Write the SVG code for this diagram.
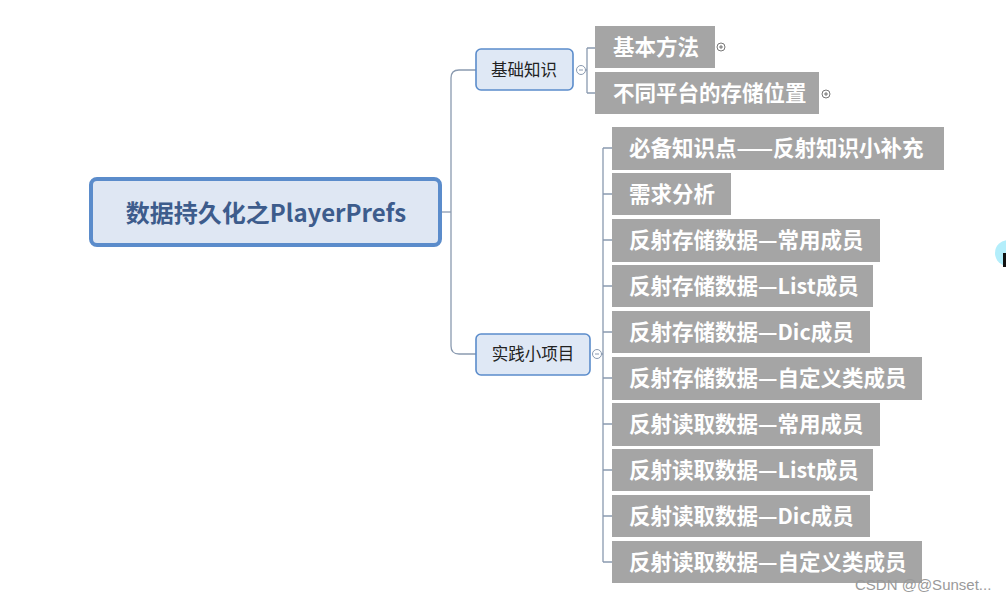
<svg xmlns="http://www.w3.org/2000/svg" width="1006" height="601" viewBox="0 0 1006 601">
<style>
.conn{fill:none;stroke:#8a9ab0;stroke-width:1.3}
.root rect{fill:#dfe7f3;stroke:#5b8ccb;stroke-width:4}
.root text{font-family:"Noto Sans CJK SC","Noto Sans",sans-serif;font-weight:bold;font-size:24px;fill:#3d5c8c;text-anchor:middle}
.mid rect{fill:#dfe8f5;stroke:#5b8ccb;stroke-width:1.6}
.mid text{font-family:"Noto Sans CJK SC",sans-serif;font-size:16.5px;fill:#222;text-anchor:middle}
.leaf rect{fill:#a5a5a5}
.leaf text{font-family:"Noto Sans CJK SC",sans-serif;font-weight:bold;font-size:21.5px;fill:#fff}
.tog{fill:#fff;stroke:#8a9ab0;stroke-width:1}
.tog2{fill:#fff;stroke:#555;stroke-width:0.8}
</style>
<rect width="1006" height="601" fill="#fff"/>
<g id="connectors">
<path class="conn" d="M441 212 H451"/>
<path class="conn" d="M476 70 H459 Q451 70 451 78 V346 Q451 354 459 354 H476"/>
<path class="conn" d="M586 70 H587 M587 48 V93 M587 48 H595 M587 93 H595"/>
<path class="conn" d="M601 354 H603 M603 148 V562 M603 148 H612 M603 194 H612 M603 240 H612 M603 286 H612 M603 332 H612 M603 378 H612 M603 424 H612 M603 470 H612 M603 516 H612 M603 562 H612"/>
</g>
<g id="root" class="root">
<rect x="91" y="179" width="349" height="66" rx="6"/>
<text x="266" y="222">数据持久化之PlayerPrefs</text>
</g>
<g id="n-basic" class="mid">
<rect x="476" y="49" width="97" height="41" rx="5"/>
<text x="524" y="76">基础知识</text>
<circle class="tog" cx="581" cy="70" r="4.5"/>
<path d="M579 70 H583" stroke="#8a9ab0" stroke-width="1"/>
</g>
<g id="n-practice" class="mid">
<rect x="476" y="334" width="114" height="41" rx="5"/>
<text x="533" y="360">实践小项目</text>
<circle class="tog" cx="597" cy="354" r="4.5"/>
<path d="M595 354 H599" stroke="#8a9ab0" stroke-width="1"/>
</g>
<g id="l1" class="leaf"><rect x="595" y="26" width="120" height="42"/><text x="613" y="55">基本方法</text>
<circle class="tog2" cx="721" cy="47" r="4"/><path d="M719 47 H723 M721 45 V49" stroke="#555" stroke-width="0.8"/></g>
<g id="l2" class="leaf"><rect x="595" y="72" width="224" height="42"/><text x="613" y="101">不同平台的存储位置</text>
<circle class="tog2" cx="826" cy="94" r="4"/><path d="M824 94 H828 M826 92 V96" stroke="#555" stroke-width="0.8"/></g>
<g id="p1" class="leaf"><rect x="612" y="127" width="332" height="43"/><text x="629" y="156">必备知识点——反射知识小补充</text></g>
<g id="p2" class="leaf"><rect x="612" y="173" width="119" height="42"/><text x="629" y="202">需求分析</text></g>
<g id="p3" class="leaf"><rect x="612" y="219" width="268" height="43"/><text x="629" y="248">反射存储数据—常用成员</text></g>
<g id="p4" class="leaf"><rect x="612" y="265" width="261" height="42"/><text x="629" y="294">反射存储数据—List成员</text></g>
<g id="p5" class="leaf"><rect x="612" y="311" width="258" height="42"/><text x="629" y="340">反射存储数据—Dic成员</text></g>
<g id="p6" class="leaf"><rect x="612" y="357" width="310" height="43"/><text x="629" y="386">反射存储数据—自定义类成员</text></g>
<g id="p7" class="leaf"><rect x="612" y="403" width="268" height="43"/><text x="629" y="432">反射读取数据—常用成员</text></g>
<g id="p8" class="leaf"><rect x="612" y="449" width="261" height="42"/><text x="629" y="478">反射读取数据—List成员</text></g>
<g id="p9" class="leaf"><rect x="612" y="495" width="258" height="42"/><text x="629" y="524">反射读取数据—Dic成员</text></g>
<g id="p10" class="leaf"><rect x="612" y="541" width="310" height="42"/><text x="629" y="570">反射读取数据—自定义类成员</text></g>
<circle cx="1008" cy="253" r="13" fill="#b3eefb"/>
<rect x="1003" y="253" width="3" height="14" fill="#111"/>
<text x="855" y="590" font-family="Liberation Sans,sans-serif" font-size="15" fill="#9a9a9a">CSDN @@Sunset...</text>
</svg>
